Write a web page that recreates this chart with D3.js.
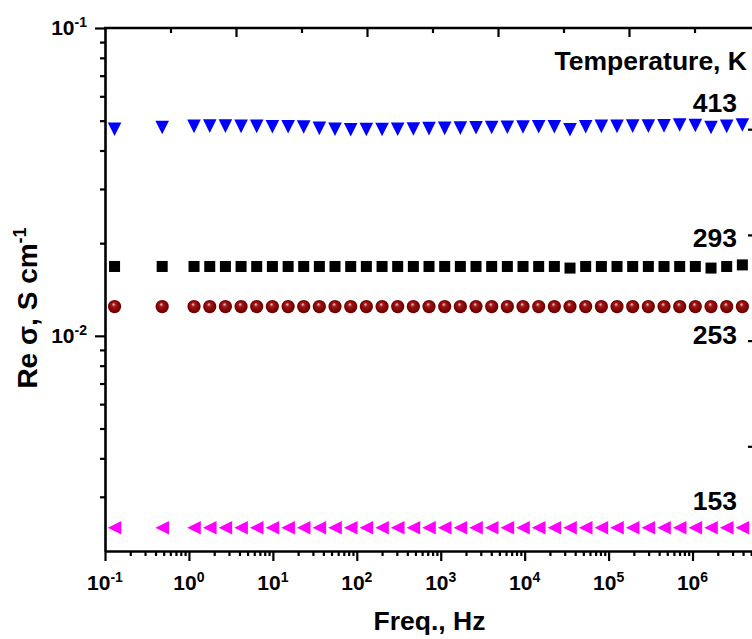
<!DOCTYPE html>
<html>
<head>
<meta charset="utf-8">
<script src="https://cdn.jsdelivr.net/npm/d3@7"></script>
<style>
  body { margin: 0; background: #fff; }
  svg { display: block; font-family: "Liberation Sans", Arial, sans-serif; font-weight: bold; }
</style>
</head>
<body>
<div id="chart"></div>
<script>
// frequencies, Hz (same for all temperatures)
var freqs = [0.13, 0.48, 1.15, 1.77, 2.72, 4.18, 6.42, 9.87, 15.2, 23.3, 35.8, 55.0, 84.6,
  130, 200, 307, 472, 725, 1115, 1713, 2633, 4047, 6220, 9560, 14690, 22580, 34700,
  53340, 82000, 126000, 193600, 297600, 457400, 703000, 1080000, 1661000, 2553000, 3925000];

var sigma413 = [0.0469, 0.0475, 0.0479, 0.0480, 0.0480, 0.0479, 0.0479, 0.0478, 0.0478, 0.0477,
  0.0472, 0.0469, 0.0467, 0.0468, 0.0468, 0.0469, 0.0470, 0.0471, 0.0472, 0.0473, 0.0474, 0.0475,
  0.0476, 0.0477, 0.0478, 0.0478, 0.0467, 0.0478, 0.0479, 0.0479, 0.0480, 0.0480, 0.0481, 0.0484,
  0.0482, 0.0475, 0.0479, 0.0484];
var sigma293 = [0.0168, 0.0168, 0.0168, 0.0168, 0.0168, 0.0168, 0.0168, 0.0168, 0.0168, 0.0168,
  0.0168, 0.0168, 0.0168, 0.0168, 0.0168, 0.0168, 0.0168, 0.0168, 0.0168, 0.0168, 0.0168, 0.0168,
  0.0168, 0.0168, 0.0168, 0.0168, 0.0166, 0.0168, 0.0168, 0.0168, 0.0168, 0.0168, 0.0168, 0.0168,
  0.0168, 0.0166, 0.0168, 0.0170];
var sigma253 = [0.01245, 0.01245, 0.01245, 0.01245, 0.01245, 0.01245, 0.01245, 0.01245, 0.01245, 0.01245,
  0.01245, 0.01245, 0.01245, 0.01245, 0.01245, 0.01245, 0.01245, 0.01245, 0.01245, 0.01245, 0.01245, 0.01245,
  0.01245, 0.01245, 0.01245, 0.01245, 0.01245, 0.01245, 0.01245, 0.01245, 0.01245, 0.01245, 0.01245, 0.01245,
  0.01245, 0.01245, 0.01245, 0.01245];
var sigma153 = [0.00238, 0.00238, 0.00238, 0.00238, 0.00238, 0.00238, 0.00238, 0.00238, 0.00238, 0.00238,
  0.00238, 0.00238, 0.00238, 0.00238, 0.00238, 0.00238, 0.00238, 0.00238, 0.00238, 0.00238, 0.00238, 0.00238,
  0.00238, 0.00238, 0.00238, 0.00238, 0.00238, 0.00238, 0.00238, 0.00238, 0.00238, 0.00238, 0.00238, 0.00238,
  0.00238, 0.00238, 0.00238, 0.00238];

var xTickValues = [0.1, 1, 10, 100, 1e3, 1e4, 1e5, 1e6];
var yTickValues = [0.1, 0.01];
var tempLabels = ["413", "293", "253", "153"];
var legendTitle = "Temperature, K";

var W = 752, H = 639;
var pLeft = 105, pRight = 754, pTop = 28, pBottom = 551;

var svg = d3.select("#chart").append("svg")
  .attr("width", W).attr("height", H);

var x = d3.scaleLog().domain([0.1, 5.4e6]).range([pLeft, pRight]);
var y = d3.scaleLog().domain([0.002, 0.1]).range([pBottom, pTop]);

// minor ticks for the log axes
function minors(lo, hi) {
  var out = [];
  for (var e = Math.floor(Math.log10(lo)); e <= Math.ceil(Math.log10(hi)); e++) {
    for (var m = 2; m <= 9; m++) {
      var v = m * Math.pow(10, e);
      if (v > lo * 1.0001 && v < hi) out.push(v);
    }
  }
  return out;
}

var defs = svg.append("defs");
var grad = defs.append("radialGradient").attr("id", "ball")
  .attr("cx", "0.5").attr("cy", "0.5").attr("r", "0.55")
  .attr("fx", "0.42").attr("fy", "0.32");
grad.append("stop").attr("offset", "0").attr("stop-color", "#f4d0d0");
grad.append("stop").attr("offset", "0.28").attr("stop-color", "#a01818");
grad.append("stop").attr("offset", "0.75").attr("stop-color", "#7c0000");
grad.append("stop").attr("offset", "1").attr("stop-color", "#5a0000");

defs.append("clipPath").attr("id", "plotclip").append("rect")
  .attr("x", pLeft).attr("y", pTop - 10).attr("width", pRight - pLeft).attr("height", pBottom - pTop + 20);

// marker shapes
function triDown(s) { return "M" + (-s) + "," + (-s) + "L" + s + "," + (-s) + "L0," + s + "Z"; }
function triLeft(s) { return "M" + (-s) + ",0L" + s + "," + (-s) + "L" + s + "," + s + "Z"; }

var plot = svg.append("g").attr("clip-path", "url(#plotclip)");

var series = [
  { vals: sigma153, kind: "left" },
  { vals: sigma253, kind: "ball" },
  { vals: sigma293, kind: "square" },
  { vals: sigma413, kind: "down" }
];

series.forEach(function(s) {
  var pts = freqs.map(function(f, i) { return { f: f, v: s.vals[i] }; });
  var g = plot.append("g");
  var sel = g.selectAll("x").data(pts).enter();
  if (s.kind == "square") {
    sel.append("rect")
      .attr("x", function(d) { return x(d.f) - 5.5; })
      .attr("y", function(d) { return y(d.v) - 5.5; })
      .attr("width", 11).attr("height", 11)
      .attr("fill", "#000");
  } else if (s.kind == "ball") {
    sel.append("circle")
      .attr("cx", function(d) { return x(d.f); })
      .attr("cy", function(d) { return y(d.v); })
      .attr("r", 6.6)
      .attr("fill", "url(#ball)");
  } else {
    sel.append("path")
      .attr("transform", function(d) { return "translate(" + x(d.f) + "," + y(d.v) + ")"; })
      .attr("d", s.kind == "down" ? triDown(6.8) : triLeft(6.8))
      .attr("fill", s.kind == "down" ? "#0000ff" : "#ff00ff");
  }
});

// bottom axis
var gx = svg.append("g").attr("transform", "translate(0," + pBottom + ")");
gx.call(d3.axisBottom(x).tickValues(xTickValues).tickFormat("").tickSize(10).tickSizeOuter(0));
gx.append("g").call(d3.axisBottom(x).tickValues(minors(0.1, 5.4e6)).tickFormat("").tickSize(5).tickSizeOuter(0))
  .select(".domain").remove();

// left axis
var gy = svg.append("g").attr("transform", "translate(" + pLeft + ",0)");
gy.call(d3.axisLeft(y).tickValues(yTickValues).tickFormat("").tickSize(10).tickSizeOuter(0));
gy.append("g").call(d3.axisLeft(y).tickValues(minors(0.002, 0.1)).tickFormat("").tickSize(5).tickSizeOuter(0))
  .select(".domain").remove();

// top and right frame axes (secondary scales, unlabeled)
var xTop = d3.scaleLinear().domain([0, 5]).range([pLeft, pLeft + 5 * 131]);
var gt = svg.append("g").attr("transform", "translate(0," + pTop + ")");
gt.call(d3.axisTop(xTop).tickValues([1, 2, 3, 4]).tickFormat("").tickSize(-9).tickSizeOuter(0));
gt.append("g").call(d3.axisTop(xTop).tickValues([0.5, 1.5, 2.5, 3.5, 4.5]).tickFormat("").tickSize(-5).tickSizeOuter(0))
  .select(".domain").remove();
gt.select(".domain").remove();
gt.append("line").attr("class", "frame").attr("x1", pLeft - 1).attr("x2", pRight);

var yRight = d3.scaleLinear().domain([0, 5]).range([552, 552 - 5 * 105.7]);
var gr = svg.append("g").attr("transform", "translate(" + pRight + ",0)");
gr.call(d3.axisRight(yRight).tickValues([1, 2, 3, 4]).tickFormat("").tickSize(-6).tickSizeOuter(0));
gr.select(".domain").remove();
gr.append("line").attr("class", "frame").attr("y1", pTop).attr("y2", pBottom);

svg.selectAll(".domain, .frame").attr("stroke", "#000").attr("stroke-width", 2.6);
svg.selectAll(".tick line").attr("stroke", "#000").attr("stroke-width", 2.2);

// tick labels with superscripts
var xl = svg.append("g");
xTickValues.forEach(function(v) {
  var t = xl.append("text")
    .attr("x", x(v)).attr("y", 590)
    .attr("text-anchor", "middle").attr("font-size", 21).attr("fill", "#000");
  t.append("tspan").text("10");
  t.append("tspan").attr("dy", -8).attr("font-size", 14).text(Math.round(Math.log10(v)));
});
var yl = svg.append("g");
yTickValues.forEach(function(v) {
  var t = yl.append("text")
    .attr("x", 87).attr("y", y(v) + 7)
    .attr("text-anchor", "end").attr("font-size", 21).attr("fill", "#000");
  t.append("tspan").text("10");
  t.append("tspan").attr("dy", -8).attr("font-size", 14).text(Math.round(Math.log10(v)));
});

// axis titles
svg.append("text")
  .attr("x", (pLeft + pRight) / 2).attr("y", 630)
  .attr("text-anchor", "middle").attr("font-size", 26.5)
  .text("Freq., Hz");

var yt = svg.append("text")
  .attr("transform", "translate(37,308) rotate(-90)")
  .attr("text-anchor", "middle").attr("font-size", 28);
yt.append("tspan").text("Re \u03c3, S cm");
yt.append("tspan").attr("dy", -11).attr("font-size", 18).text("-1");

// temperature labels
svg.append("text").attr("x", 747).attr("y", 70).attr("text-anchor", "end")
  .attr("font-size", 26.5).text(legendTitle);
var labelY = [sigma413[37], sigma293[37], sigma253[37], sigma153[37]];
var labelShift = [-13, -18, 37, -18];
tempLabels.forEach(function(lbl, i) {
  svg.append("text")
    .attr("x", 737).attr("y", y(labelY[i]) + labelShift[i])
    .attr("text-anchor", "end").attr("font-size", 26.5)
    .text(lbl);
});
</script>
</body>
</html>
